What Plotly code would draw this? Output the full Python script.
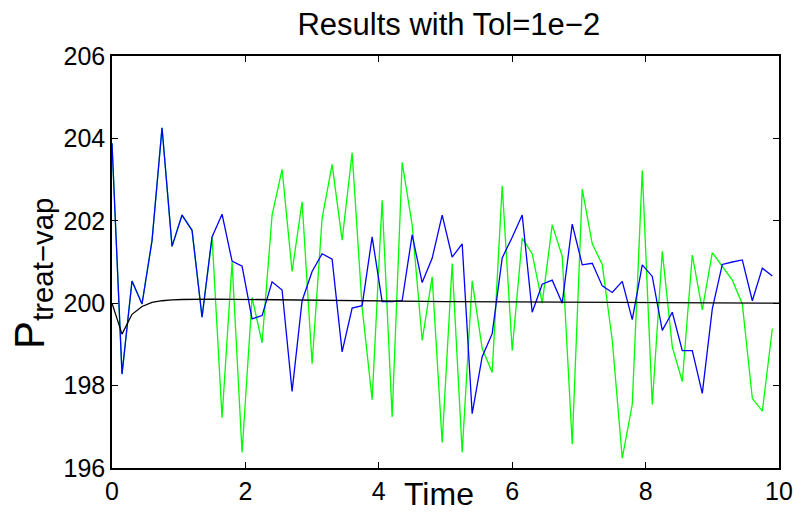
import plotly.graph_objects as go

# time grid for the two noisy series (step 0.15)
t = [round(i * 0.15, 2) for i in range(67)]

blue = [203.88, 198.28, 200.54, 199.98, 201.52, 204.26, 201.38, 202.14, 201.77, 199.66,
        201.61, 202.16, 201.02, 200.90, 199.62, 199.70, 200.52, 200.32, 197.86, 200.06,
        200.77, 201.20, 201.07, 198.82, 199.88, 199.94, 201.61, 200.04, 200.04, 200.06,
        201.66, 200.50, 201.09, 202.14, 201.12, 201.44, 197.32, 198.70, 199.26, 201.10,
        201.60, 202.14, 199.78, 200.46, 200.56, 200.00, 201.92, 200.93, 200.97, 200.42,
        200.26, 200.53, 199.60, 200.93, 200.65, 199.34, 199.78, 198.85, 198.85, 197.81,
        199.86, 200.94, 201.00, 201.05, 200.06, 200.85, 200.66]

green = [203.88, 198.28, 200.54, 199.98, 201.52, 204.26, 201.38, 202.14, 201.77, 199.66,
         201.61, 197.22, 201.00, 196.38, 200.14, 199.04, 202.14, 203.25, 200.77, 202.46,
         198.53, 202.06, 203.37, 201.53, 203.65, 199.90, 197.66, 202.50, 197.24, 203.42,
         201.90, 199.10, 200.64, 196.62, 200.96, 196.38, 200.54, 198.90, 198.32, 202.85,
         198.85, 201.58, 201.20, 200.00, 201.90, 201.14, 196.58, 202.77, 201.44, 200.94,
         199.10, 196.24, 197.54, 203.22, 197.54, 201.26, 198.94, 198.10, 201.17, 199.84,
         201.23, 200.90, 200.56, 199.98, 197.69, 197.38, 199.38]

t_black = [0, 0.15, 0.3, 0.45, 0.6, 0.75, 0.9, 1.05, 1.5, 2, 3, 4, 5, 6, 7, 8, 9, 10]
black = [200.0, 199.25, 199.73, 199.92, 200.02, 200.06, 200.08, 200.09, 200.10, 200.09,
         200.07, 200.05, 200.04, 200.03, 200.02, 200.01, 200.00, 200.00]

x_ticks = [0, 2, 4, 6, 8, 10]
y_ticks = [196, 198, 200, 202, 204, 206]

FONT = "Liberation Sans, Arial, sans-serif"

fig = go.Figure()
fig.add_trace(go.Scatter(x=t, y=green, mode="lines", line=dict(color="#00FF00", width=1.3)))
fig.add_trace(go.Scatter(x=t, y=blue, mode="lines", line=dict(color="#0000FF", width=1.3)))
fig.add_trace(go.Scatter(x=t_black, y=black, mode="lines", line=dict(color="#000000", width=1.3)))

axis_common = dict(
    showline=True, linecolor="black", linewidth=1.5, mirror="ticks",
    ticks="inside", ticklen=6, tickwidth=1, tickcolor="black",
    showgrid=False, zeroline=False,
    tickfont=dict(family=FONT, size=25, color="black"),
)

fig.update_layout(
    width=805, height=517,
    margin=dict(l=112, r=21, t=56, b=45),
    paper_bgcolor="white", plot_bgcolor="white",
    showlegend=False,
    title=dict(text="Results with Tol=1e\u22122", x=0.5575, xanchor="center",
               y=0.953, yanchor="middle",
               font=dict(family=FONT, size=31, color="black")),
    xaxis=dict(range=[0, 10], tickvals=x_ticks, ticktext=[str(v) for v in x_ticks], **axis_common),
    yaxis=dict(range=[196, 206], tickvals=y_ticks, ticktext=[str(v) for v in y_ticks],
               **axis_common),
    annotations=[
        dict(text="Time", x=4.9, y=0, xref="x", yref="paper", xanchor="center",
             yanchor="top", yshift=-6, showarrow=False,
             font=dict(family=FONT, size=32, color="black")),
        dict(text="P<sub>treat\u2212vap</sub>", textangle=-90, x=0, y=0.5,
             xref="paper", yref="paper", xanchor="center", yanchor="middle",
             xshift=-80, yshift=-12, showarrow=False,
             font=dict(family=FONT, size=42, color="black")),
    ],
)

fig.write_html("out.html")
